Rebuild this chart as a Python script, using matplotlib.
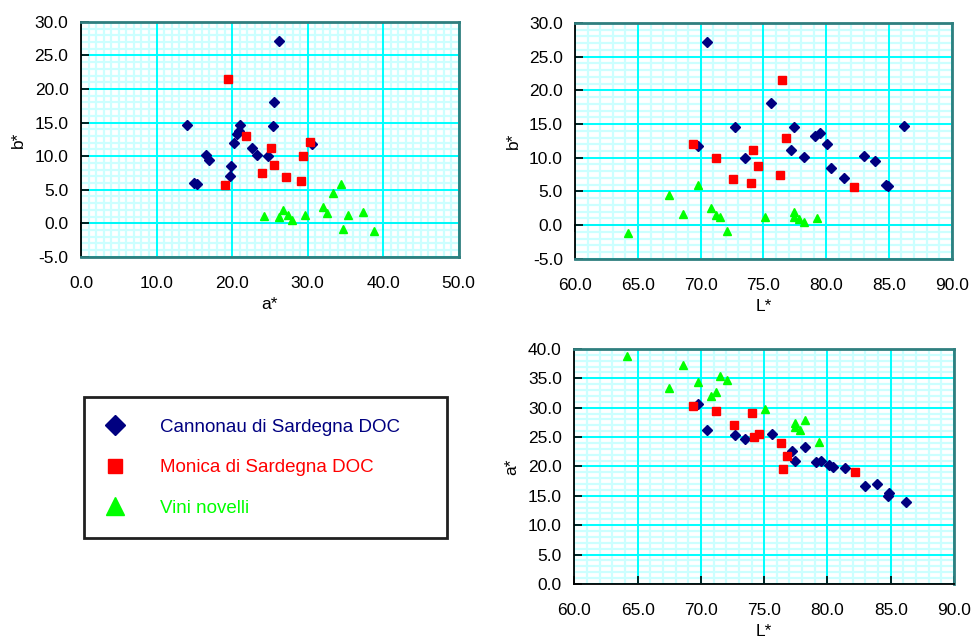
import matplotlib
matplotlib.use('Agg')
import matplotlib.pyplot as plt
from matplotlib.ticker import MultipleLocator, FormatStrFormatter, NullFormatter

plt.rcParams['font.family'] = ['Liberation Sans', 'DejaVu Sans']

# Cannonau di Sardegna DOC
cann_L = [70.5, 69.8, 72.7, 73.5, 75.6, 77.2, 77.4, 78.2, 79.1, 79.5, 80.1, 80.4, 81.4, 83.0, 83.9, 84.8, 84.9, 86.2]
cann_a = [26.2, 30.6, 25.4, 24.7, 25.5, 22.6, 21.0, 23.3, 20.7, 20.9, 20.2, 19.9, 19.7, 16.6, 17.0, 15.0, 15.4, 14.0]
cann_b = [27.2, 11.8, 14.5, 10.0, 18.1, 11.2, 14.6, 10.1, 13.3, 13.7, 12.0, 8.5, 7.0, 10.2, 9.5, 6.0, 5.8, 14.7]

# Monica di Sardegna DOC
mon_L = [69.4, 71.2, 72.6, 74.0, 74.2, 74.6, 76.3, 76.5, 76.8, 82.2]
mon_a = [30.3, 29.4, 27.1, 29.1, 25.1, 25.5, 24.0, 19.5, 21.8, 19.0]
mon_b = [12.1, 10.0, 6.9, 6.3, 11.2, 8.7, 7.5, 21.5, 13.0, 5.7]

# Vini novelli
nov_L = [64.2, 67.5, 68.6, 69.8, 70.8, 71.2, 71.5, 72.1, 75.1, 77.4, 77.4, 77.8, 78.2, 79.3]
nov_a = [38.8, 33.3, 37.3, 34.4, 32.0, 32.6, 35.4, 34.7, 29.7, 26.7, 27.4, 26.2, 27.9, 24.2]
nov_b = [-1.2, 4.5, 1.7, 5.9, 2.5, 1.5, 1.2, -0.9, 1.2, 2.0, 1.2, 0.9, 0.5, 1.1]

labels = ['Cannonau di Sardegna DOC', 'Monica di Sardegna DOC', 'Vini novelli']
colors = ['#000080', '#ff0000', '#00ff00']

fig = plt.figure(figsize=(9.71, 6.39), dpi=100)


def make_axes(rect, xlim, ylim, xmaj, ymaj, xlabel, ylabel):
    # light minor grid on a background axes so the major grid stays on top
    bg = fig.add_axes(rect)
    bg.set_xlim(xlim)
    bg.set_ylim(ylim)
    bg.xaxis.set_major_locator(MultipleLocator(1))
    bg.yaxis.set_major_locator(MultipleLocator(1))
    bg.grid(color='#ccffff', lw=1.6)
    bg.tick_params(length=0, labelbottom=False, labelleft=False)
    for s in bg.spines.values():
        s.set_visible(False)
    bg.set_zorder(0)

    ax = fig.add_axes(rect)
    ax.set_zorder(1)
    ax.set_facecolor('none')
    ax.set_xlim(xlim)
    ax.set_ylim(ylim)
    ax.xaxis.set_major_locator(MultipleLocator(xmaj))
    ax.yaxis.set_major_locator(MultipleLocator(ymaj))
    ax.xaxis.set_major_formatter(FormatStrFormatter('%.1f'))
    ax.yaxis.set_major_formatter(FormatStrFormatter('%.1f'))
    ax.set_axisbelow(True)
    ax.grid(color='#00ffff', lw=1.4)
    for s in ax.spines.values():
        s.set_color('#2f7f7f')
        s.set_linewidth(2)
    ax.spines['left'].set_color('black')
    ax.spines['left'].set_linewidth(1.3)
    ax.tick_params(direction='in', length=6, width=1.2, labelsize=12.5)
    ax.tick_params(axis='y', pad=9)
    ax.tick_params(axis='x', pad=14)
    ax.set_xlabel(xlabel, fontsize=12.5, labelpad=4)
    ax.set_ylabel(ylabel, fontsize=12.5, labelpad=6)
    if ylim[0] < 0:
        # x axis crosses at zero
        pos = -ylim[0] / (ylim[1] - ylim[0])
        sec = ax.secondary_xaxis(pos)
        sec.xaxis.set_major_locator(MultipleLocator(xmaj))
        sec.xaxis.set_major_formatter(NullFormatter())
        sec.tick_params(direction='out', length=5, width=1.2)
        for s in sec.spines.values():
            s.set_color('black')
            s.set_linewidth(1.3)
        ax.tick_params(axis='x', length=0)
    else:
        ax.spines['bottom'].set_color('black')
        ax.spines['bottom'].set_linewidth(1.3)
    return ax


def draw(ax, xs, ys):
    ax.plot(xs[0], ys[0], 'D', color=colors[0], ms=4.6, ls='none', label=labels[0])
    ax.plot(xs[1], ys[1], 's', color=colors[1], ms=5.6, ls='none', label=labels[1])
    ax.plot(xs[2], ys[2], '^', color=colors[2], ms=5.6, ls='none', label=labels[2])


ax1 = make_axes([0.0834, 0.598, 0.389, 0.3678], (0, 50), (-5, 30), 10, 5, 'a*', 'b*')
ax2 = make_axes([0.5925, 0.595, 0.3876, 0.369], (60, 90), (-5, 30), 5, 5, 'L*', 'b*')
ax3 = make_axes([0.5915, 0.0861, 0.391, 0.3678], (60, 90), (0, 40), 5, 5, 'L*', 'a*')

draw(ax1, [cann_a, mon_a, nov_a], [cann_b, mon_b, nov_b])
draw(ax2, [cann_L, mon_L, nov_L], [cann_b, mon_b, nov_b])
draw(ax3, [cann_L, mon_L, nov_L], [cann_a, mon_a, nov_a])

handles, _ = ax1.get_legend_handles_labels()
leg = fig.legend(handles, labels, loc='upper left',
                 bbox_to_anchor=(0.0865, 0.161, 0.374, 0.2175), mode='expand',
                 borderaxespad=0, fontsize=13.5, labelcolor=colors,
                 fancybox=False, framealpha=1, edgecolor='#202020',
                 borderpad=1.15, labelspacing=1.24, handlelength=1.0,
                 handletextpad=1.9)
leg.get_frame().set_linewidth(2)
for h, ms in zip(leg.legend_handles, [9.7, 10.3, 12.7]):
    h.set_markersize(ms)

fig.savefig('out.png', dpi=100)
